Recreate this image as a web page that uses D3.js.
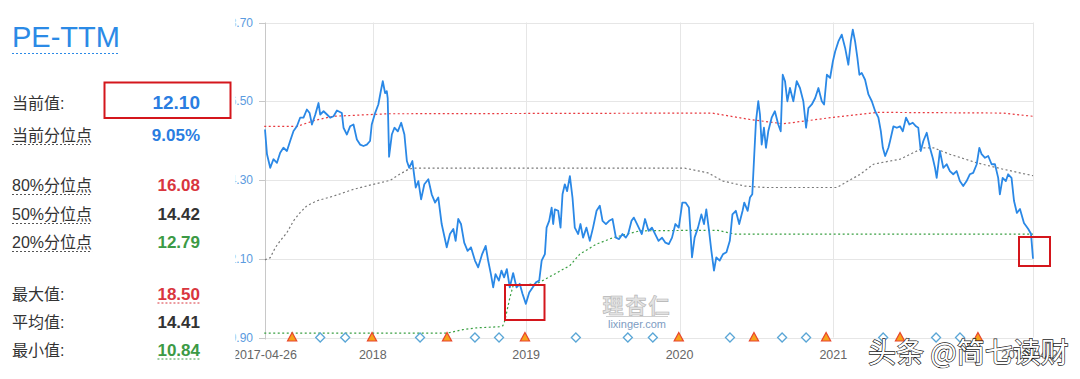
<!DOCTYPE html>
<html><head><meta charset="utf-8">
<script src="https://cdn.jsdelivr.net/npm/d3@7"></script>
<style>body{margin:0;background:#fff}svg{display:block}</style>
</head><body><svg id="c" width="1080" height="379"></svg>
<script>
// PE-TTM series: [decimal year, value]
const peSeries = [
[2017.297,15.71],[2017.310,15.02],[2017.331,14.64],[2017.352,14.88],[2017.375,14.78],[2017.396,15.06],[2017.417,15.20],[2017.440,15.11],[2017.461,15.39],[2017.483,15.67],
[2017.505,15.80],[2017.526,16.04],[2017.548,16.04],[2017.570,16.27],[2017.588,16.17],[2017.603,15.85],[2017.625,16.13],[2017.646,16.45],[2017.657,16.13],[2017.679,16.22],
[2017.701,16.13],[2017.722,16.04],[2017.744,16.08],[2017.766,16.24],[2017.798,16.17],[2017.809,15.76],[2017.831,15.57],[2017.852,15.80],[2017.874,15.85],[2017.896,15.43],
[2017.917,15.29],[2017.939,15.25],[2017.961,15.29],[2017.982,15.39],[2017.993,15.85],[2018.015,16.17],[2018.036,16.41],[2018.052,16.78],[2018.065,17.06],[2018.080,16.73],
[2018.091,16.78],[2018.097,16.59],[2018.106,14.95],[2018.124,15.57],[2018.141,15.76],[2018.163,15.66],[2018.185,15.90],[2018.206,15.57],[2018.222,14.83],[2018.237,14.64],
[2018.258,14.83],[2018.280,14.09],[2018.297,14.27],[2018.315,13.76],[2018.336,14.18],[2018.362,14.32],[2018.384,13.90],[2018.406,13.67],[2018.427,13.81],[2018.449,13.07],
[2018.482,12.42],[2018.503,12.79],[2018.525,12.93],[2018.540,12.60],[2018.557,13.21],[2018.575,13.07],[2018.596,12.55],[2018.618,12.32],[2018.640,12.42],[2018.666,12.05],
[2018.687,11.86],[2018.713,12.23],[2018.736,12.46],[2018.752,12.05],[2018.770,11.67],[2018.785,11.30],[2018.800,11.67],[2018.822,11.49],[2018.839,11.77],[2018.856,11.58],
[2018.874,11.81],[2018.893,11.30],[2018.915,11.70],[2018.937,11.30],[2018.958,11.40],[2018.976,11.12],[2018.998,10.84],[2019.020,11.16],[2019.042,11.30],[2019.064,11.44],
[2019.085,11.49],[2019.101,12.05],[2019.122,12.23],[2019.133,12.97],[2019.150,13.16],[2019.166,13.53],[2019.176,13.07],[2019.187,13.48],[2019.209,13.44],[2019.224,12.97],
[2019.237,13.90],[2019.252,14.18],[2019.267,13.99],[2019.285,14.41],[2019.302,13.81],[2019.317,12.97],[2019.339,12.79],[2019.354,13.07],[2019.371,12.69],[2019.393,12.97],
[2019.415,12.60],[2019.436,12.97],[2019.459,13.44],[2019.480,13.58],[2019.498,13.16],[2019.520,13.07],[2019.541,13.16],[2019.563,13.21],[2019.585,12.69],[2019.606,12.65],
[2019.628,12.79],[2019.650,12.69],[2019.665,12.79],[2019.687,13.16],[2019.702,13.25],[2019.723,13.07],[2019.754,12.79],[2019.775,13.21],[2019.798,12.88],[2019.820,12.97],
[2019.841,12.79],[2019.863,12.60],[2019.886,12.69],[2019.908,12.55],[2019.930,12.51],[2019.951,12.69],[2019.973,13.07],[2019.995,12.97],[2020.018,13.67],[2020.039,13.67],
[2020.061,13.53],[2020.072,12.79],[2020.081,12.14],[2020.098,12.69],[2020.120,12.97],[2020.142,13.34],[2020.159,13.07],[2020.174,13.48],[2020.192,12.88],[2020.207,12.32],
[2020.224,11.77],[2020.239,12.14],[2020.261,12.05],[2020.283,12.23],[2020.305,12.28],[2020.327,12.60],[2020.344,13.34],[2020.366,13.44],[2020.388,13.07],[2020.410,13.44],
[2020.421,13.67],[2020.443,13.44],[2020.458,13.81],[2020.473,13.90],[2020.486,15.02],[2020.497,15.94],[2020.512,16.50],[2020.523,16.13],[2020.534,15.29],[2020.549,15.76],
[2020.562,15.20],[2020.577,15.66],[2020.599,16.04],[2020.620,16.22],[2020.642,15.85],[2020.658,15.66],[2020.671,17.24],[2020.686,17.06],[2020.701,16.50],[2020.718,16.87],
[2020.740,16.50],[2020.762,17.06],[2020.783,16.87],[2020.805,16.50],[2020.823,15.76],[2020.838,16.31],[2020.860,16.41],[2020.882,16.59],[2020.903,16.87],[2020.925,16.50],
[2020.940,16.41],[2020.958,17.24],[2020.979,17.15],[2020.997,17.61],[2021.012,17.89],[2021.033,18.17],[2021.055,18.36],[2021.077,17.99],[2021.098,17.52],[2021.114,18.17],
[2021.127,18.50],[2021.142,18.17],[2021.157,17.71],[2021.170,17.24],[2021.185,17.29],[2021.207,17.10],[2021.229,16.69],[2021.251,16.50],[2021.273,16.22],[2021.294,16.04],
[2021.310,15.66],[2021.323,15.20],[2021.338,14.97],[2021.359,15.20],[2021.370,15.39],[2021.392,15.80],[2021.414,15.76],[2021.435,15.80],[2021.453,15.66],[2021.474,16.04],
[2021.496,15.85],[2021.518,15.90],[2021.539,15.80],[2021.554,15.76],[2021.570,15.11],[2021.587,15.39],[2021.609,15.62],[2021.630,15.20],[2021.648,14.92],[2021.663,14.64],
[2021.674,14.36],[2021.695,15.11],[2021.717,14.64],[2021.739,14.74],[2021.760,14.55],[2021.782,14.46],[2021.804,14.55],[2021.825,14.27],[2021.847,14.13],[2021.869,14.27],
[2021.890,14.46],[2021.912,14.50],[2021.935,14.74],[2021.952,15.20],[2021.967,15.02],[2021.989,14.92],[2022.010,14.97],[2022.032,14.74],[2022.054,14.74],[2022.075,14.36],
[2022.086,13.90],[2022.104,14.36],[2022.125,14.27],[2022.140,14.46],[2022.162,14.36],[2022.178,13.72],[2022.197,13.38],[2022.217,13.49],[2022.243,13.10],[2022.270,12.94],
[2022.289,12.80],[2022.302,12.10]
];
const pct80Series = [[2017.292,15.80],[2017.507,15.80],[2017.625,15.97],[2017.742,16.08],[2018.094,16.15],[2020.210,16.17],[2020.458,15.99],[2020.673,15.87],[2020.999,16.05],[2021.286,16.19],[2022.106,16.17],[2022.302,16.08]];
const pct50Series = [[2017.297,12.07],[2017.331,12.13],[2017.364,12.41],[2017.396,12.60],[2017.440,12.83],[2017.483,13.16],[2017.526,13.39],[2017.570,13.58],[2017.636,13.72],[2017.744,13.85],[2017.874,14.04],[2018.004,14.18],[2018.113,14.29],[2018.167,14.44],[2018.232,14.60],[2018.265,14.63],[2020.034,14.63],[2020.184,14.50],[2020.283,14.27],[2020.425,14.13],[2020.556,14.09],[2021.023,14.09],[2021.175,14.46],[2021.262,14.74],[2021.305,14.78],[2021.435,14.88],[2021.587,15.20],[2021.652,15.20],[2021.760,15.02],[2021.935,14.78],[2022.108,14.60],[2022.302,14.42]];
const pct20Series = [[2017.292,10.02],[2018.482,10.02],[2018.588,10.12],[2018.677,10.17],[2018.828,10.20],[2018.848,10.23],[2018.861,10.37],[2018.894,11.02],[2018.915,11.35],[2019.068,11.40],[2019.176,11.65],[2019.285,11.91],[2019.350,12.23],[2019.459,12.51],[2019.567,12.69],[2019.741,12.88],[2020.002,12.89],[2020.250,12.89],[2020.360,12.79],[2022.302,12.79]];
const triangleDates = [2017.474,2017.995,2018.484,2018.992,2019.995,2020.484,2020.953,2021.435,2021.943];
const diamondDates = [2017.657,2017.820,2018.308,2018.666,2018.823,2019.324,2019.663,2019.826,2020.328,2020.667,2020.823,2021.325,2021.670,2021.826];
const yTicks = [9.90,12.10,14.30,16.50,18.70];
const xTickDates = [2017.297,2018,2019,2020,2021,2022.302];
const xTickLabels = ["2017-04-26","2018","2019","2020","2021","2022-04-26"];
const statLabels = ["当前值:","当前分位点","80%分位点","50%分位点","20%分位点","最大值:","平均值:","最小值:"];
const statValues = ["12.10","9.05%","16.08","14.42","12.79","18.50","14.41","10.84"];
const titleText = "PE-TTM";

function dy(t){const y=Math.floor(t);const s=new Date(y,0,1).getTime(),e=new Date(y+1,0,1).getTime();return new Date(s+(t-y)*(e-s));}

const svg = d3.select("#c");
const FONT = "'Liberation Sans', Arial, 'Noto Sans CJK SC', sans-serif";
const L=265,R=1033,T=22.5,B=337.5;
const x = d3.scaleTime().domain([dy(xTickDates[0]), dy(xTickDates[xTickDates.length-1])]).range([L,R]);
const y = d3.scaleLinear().domain([yTicks[0], yTicks[yTicks.length-1]]).range([B,T]);

const g = svg.append("g");
g.selectAll(".hg").data(yTicks).join("line")
 .attr("x1",L).attr("x2",R).attr("y1",d=>Math.round(y(d))+0.5).attr("y2",d=>Math.round(y(d))+0.5)
 .attr("stroke","#e6e6e6").attr("stroke-width",1);
g.selectAll(".vg").data(xTickDates.slice(1)).join("line")
 .attr("x1",d=>Math.round(x(dy(d)))+0.5).attr("x2",d=>Math.round(x(dy(d)))+0.5).attr("y1",T).attr("y2",B)
 .attr("stroke","#e6e6e6").attr("stroke-width",1);
g.append("line").attr("x1",L+0.5).attr("x2",L+0.5).attr("y1",T).attr("y2",B+2).attr("stroke","#c8c8c8");
g.selectAll(".yt").data(yTicks).join("line")
 .attr("x1",L-6).attr("x2",L).attr("y1",d=>Math.round(y(d))+0.5).attr("y2",d=>Math.round(y(d))+0.5).attr("stroke","#c8c8c8");
g.selectAll(".yl").data(yTicks).join("text")
 .attr("x",253).attr("y",d=>y(d)+4).attr("text-anchor","end")
 .attr("font-family",FONT).attr("font-size",12).attr("fill","#5b9be0")
 .text(d=>d.toFixed(2));
g.selectAll(".xl").data(xTickDates).join("text")
 .attr("x",d=>x(dy(d))).attr("y",359).attr("text-anchor","middle")
 .attr("font-family",FONT).attr("font-size",12.5).attr("fill","#666")
 .text((d,i)=>xTickLabels[i]);

const line = d3.line().x(d=>x(dy(d[0]))).y(d=>y(d[1]));
[[pct80Series,"#e8393f"],[pct50Series,"#7a7a7a"],[pct20Series,"#3aa043"]].forEach(([s,c])=>{
  g.append("path").datum(s).attr("d",line).attr("fill","none").attr("stroke",c)
   .attr("stroke-width",1.2).attr("stroke-dasharray","2,2.5");
});
g.append("path").datum(peSeries).attr("d",line).attr("fill","none")
 .attr("stroke","#2a88e6").attr("stroke-width",1.8).attr("stroke-linejoin","round");

g.selectAll(".dm").data(diamondDates).join("path")
 .attr("transform",d=>`translate(${x(dy(d))},${B})`)
 .attr("d","M0,-4.5L4.5,0L0,4.5L-4.5,0Z").attr("fill","#fff").attr("stroke","#5aa6d6").attr("stroke-width",1.3);
g.selectAll(".tr").data(triangleDates).join("path")
 .attr("transform",d=>`translate(${x(dy(d))},${B})`)
 .attr("d","M0,-5L4.6,3.5L-4.6,3.5Z").attr("fill","#f7a21b").attr("stroke","#e8452c").attr("stroke-width",1.2);

g.append("text").attr("x",637).attr("y",313).attr("text-anchor","middle")
 .attr("font-family","'Noto Sans CJK SC', sans-serif").attr("font-size",21).attr("font-weight","bold")
 .attr("fill","#e2e2e2").attr("stroke","#b4b4b4").attr("stroke-width",0.6).attr("letter-spacing",2).text("理杏仁");
g.append("line").attr("x1",606).attr("x2",668).attr("y1",316.5).attr("y2",316.5).attr("stroke","#cfcfcf");
g.append("text").attr("x",637).attr("y",328).attr("text-anchor","middle")
 .attr("font-family",FONT).attr("font-size",11).attr("fill","#7d9cc2").text("lixinger.com");

svg.append("rect").attr("x",0).attr("y",0).attr("width",235.5).attr("height",379).attr("fill","#fff");

const p = svg.append("g");
const t = p.append("text").attr("x",12).attr("y",47).attr("font-family",FONT).attr("font-size",29)
 .attr("fill","#2b8ae6").text(titleText);
p.append("line").attr("x1",12).attr("x2",12+t.node().getComputedTextLength()).attr("y1",53.5).attr("y2",53.5)
 .attr("stroke","#2b8ae6").attr("stroke-dasharray","2,2");

const rowY = [109,141,191,220,248,300,328,356];
const valColor = ["#2a7de1","#2a7de1","#d9363e","#333","#3c9a45","#d9363e","#333","#3c9a45"];
const valSize = [19,17,17,17,17,17,17,17];
const labelUnder = [false,true,true,true,true,false,false,false];
const valUnder = [false,false,false,false,false,true,false,true];
statLabels.forEach((lab,i)=>{
  const tl = p.append("text").attr("x",12).attr("y",rowY[i]).attr("font-family",FONT).attr("font-size",16)
   .attr("fill","#333").text(lab);
  if(labelUnder[i]){
    p.append("line").attr("x1",12).attr("x2",12+tl.node().getComputedTextLength()).attr("y1",rowY[i]+3.5).attr("y2",rowY[i]+3.5)
     .attr("stroke","#555").attr("stroke-dasharray","2,2");
  }
  const tv = p.append("text").attr("x",200).attr("y",rowY[i]).attr("text-anchor","end").attr("font-family",FONT)
   .attr("font-size",valSize[i]).attr("font-weight","bold").attr("fill",valColor[i]).text(statValues[i]);
  if(valUnder[i]){
    const w = tv.node().getComputedTextLength();
    p.append("line").attr("x1",200-w).attr("x2",200).attr("y1",rowY[i]+3).attr("y2",rowY[i]+3)
     .attr("stroke",valColor[i]).attr("stroke-dasharray","2,2");
  }
});

const boxes = [[104.5,82.5,126,35.5],[505,285,39.5,35],[1019,237,31,29]];
svg.selectAll(".bx").data(boxes).join("rect")
 .attr("x",d=>d[0]).attr("y",d=>d[1]).attr("width",d=>d[2]).attr("height",d=>d[3])
 .attr("fill","none").attr("stroke","#d4161c").attr("stroke-width",2);

svg.append("text").attr("x",868).attr("y",363).attr("font-family","'Noto Sans CJK SC', sans-serif")
 .attr("font-size",28).attr("fill","#fff").attr("stroke","#1a1a1a").attr("stroke-width",1.3)
 .attr("paint-order","stroke").text("头条 @简七读财");
</script></body></html>
